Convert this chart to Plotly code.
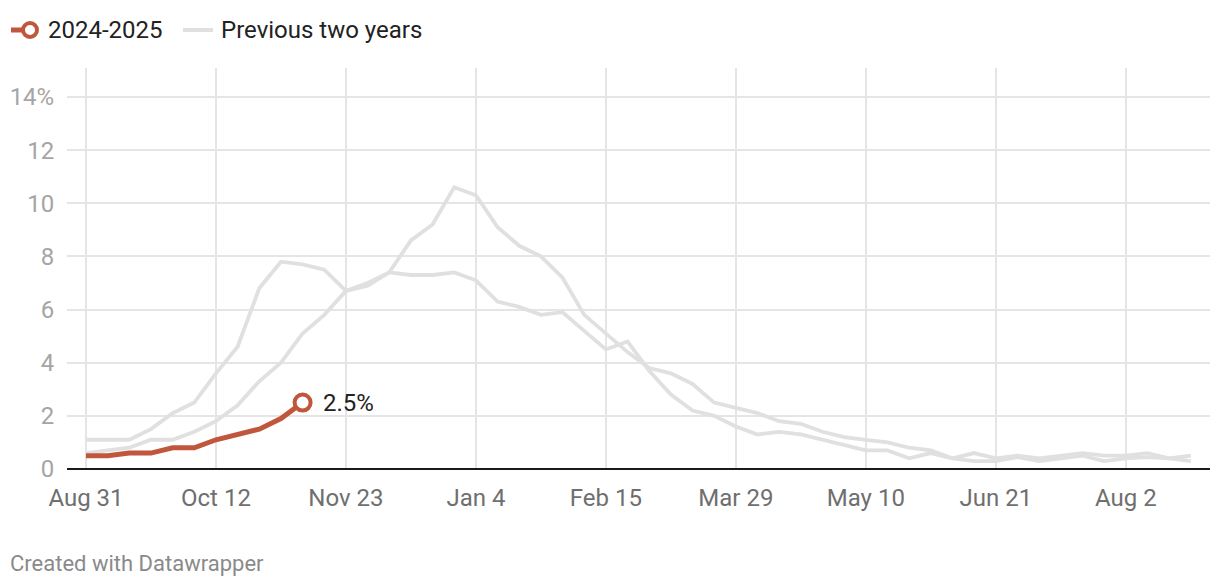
import pandas as pd
import plotly.graph_objects as go

# ---------------- data ----------------
start_date = "2024-08-31"
n_weeks = 52

current_label = "2024-2025"
current_values = [0.5, 0.5, 0.6, 0.6, 0.8, 0.8, 1.1, 1.3, 1.5, 1.9, 2.5]

prev_label = "Previous two years"
prev_a_values = [1.1, 1.1, 1.1, 1.5, 2.1, 2.5, 3.6, 4.6, 6.8, 7.8, 7.7, 7.5, 6.7, 6.9, 7.4,
                 7.3, 7.3, 7.4, 7.1, 6.3, 6.1, 5.8, 5.9, 5.2, 4.5, 4.8, 3.7, 2.8, 2.2, 2.0,
                 1.6, 1.3, 1.4, 1.3, 1.1, 0.9, 0.7, 0.7, 0.4, 0.6, 0.4, 0.3, 0.3, 0.45, 0.3,
                 0.4, 0.5, 0.3, 0.4, 0.45, 0.4, 0.3]
prev_b_values = [0.6, 0.7, 0.8, 1.1, 1.1, 1.4, 1.8, 2.4, 3.3, 4.0, 5.1, 5.8, 6.7, 7.0, 7.4,
                 8.6, 9.2, 10.6, 10.3, 9.1, 8.4, 8.0, 7.2, 5.8, 5.1, 4.4, 3.8, 3.6, 3.2, 2.5,
                 2.3, 2.1, 1.8, 1.7, 1.4, 1.2, 1.1, 1.0, 0.8, 0.7, 0.4, 0.6, 0.4, 0.5, 0.4,
                 0.5, 0.6, 0.5, 0.5, 0.6, 0.4, 0.5]

x_tick_labels = ["Aug 31", "Oct 12", "Nov 23", "Jan 4", "Feb 15", "Mar 29", "May 10", "Jun 21", "Aug 2"]
y_tick_values = [0, 2, 4, 6, 8, 10, 12, 14]
y_tick_labels = ["0", "2", "4", "6", "8", "10", "12", "14%"]
end_label = "2.5%"
footer_text = "Created with Datawrapper"

# ---------------- derived ----------------
weeks = pd.date_range(start_date, periods=n_weeks, freq="7D")
x_tick_values = pd.date_range(start_date, periods=len(x_tick_labels), freq="42D")

RED = "#c0573c"
GRAY = "#e0e0e0"
FONT = "Roboto, Arial, sans-serif"

W, H = 1220, 586
L, R, T, B = 67, 10, 68, 117
PW, PH = W - L - R, H - T - B


def px_x(p):
    return (p - L) / PW


def px_y(p):
    return (H - B - p) / PH


fig = go.Figure()

for vals in (prev_a_values, prev_b_values):
    fig.add_trace(go.Scatter(
        x=weeks[:len(vals)], y=vals, mode="lines",
        line=dict(color=GRAY, width=3.8), hoverinfo="skip", showlegend=False,
    ))

fig.add_trace(go.Scatter(
    x=weeks[:len(current_values)], y=current_values, mode="lines",
    line=dict(color=RED, width=5), hoverinfo="skip", showlegend=False,
))
fig.add_trace(go.Scatter(
    x=[weeks[len(current_values) - 1]], y=[current_values[-1]], mode="markers",
    marker=dict(symbol="circle", size=16, color="white", line=dict(color=RED, width=4)),
    hoverinfo="skip", showlegend=False, cliponaxis=False,
))

annotations = [
    dict(x=weeks[len(current_values) - 1], y=current_values[-1], xref="x", yref="y",
         text=end_label, showarrow=False, xanchor="left", yanchor="middle", xshift=18,
         font=dict(family=FONT, size=24, color="#222")),
    dict(x=px_x(46), y=px_y(30), xref="paper", yref="paper", text=current_label,
         showarrow=False, xanchor="left", yanchor="middle",
         font=dict(family=FONT, size=24, color="#222")),
    dict(x=px_x(219), y=px_y(30), xref="paper", yref="paper", text=prev_label,
         showarrow=False, xanchor="left", yanchor="middle",
         font=dict(family=FONT, size=24, color="#222")),
    dict(x=px_x(8), y=px_y(563), xref="paper", yref="paper", text=footer_text,
         showarrow=False, xanchor="left", yanchor="middle",
         font=dict(family=FONT, size=22, color="#8a8a8a")),
]

shapes = [
    dict(type="line", xref="paper", yref="paper", x0=px_x(11), x1=px_x(28),
         y0=px_y(30), y1=px_y(30), line=dict(color=RED, width=5)),
    dict(type="circle", xref="paper", yref="paper", x0=px_x(23), x1=px_x(37),
         y0=px_y(23), y1=px_y(37), fillcolor="white", line=dict(color=RED, width=4)),
    dict(type="line", xref="paper", yref="paper", x0=px_x(183), x1=px_x(213),
         y0=px_y(30), y1=px_y(30), line=dict(color=GRAY, width=4)),
]

fig.update_layout(
    width=W, height=H,
    margin=dict(l=L, r=R, t=T, b=B, pad=0, autoexpand=False),
    plot_bgcolor="white", paper_bgcolor="white",
    showlegend=False,
    font=dict(family=FONT),
    annotations=annotations,
    shapes=shapes,
    xaxis=dict(
        type="date", automargin=False,
        range=["2024-08-24 21:00", "2025-08-29 05:00"],
        tickmode="array", tickvals=list(x_tick_values), ticktext=x_tick_labels,
        showgrid=True, gridcolor="#e5e5e5", gridwidth=2,
        zeroline=False, showline=False, ticks="outside", ticklen=7, tickcolor="rgba(0,0,0,0)",
        tickfont=dict(family=FONT, size=24, color="#6f6f6f"),
        fixedrange=True,
    ),
    yaxis=dict(
        automargin=False,
        range=[0, 15.09],
        tickmode="array", tickvals=y_tick_values, ticktext=y_tick_labels,
        showgrid=True, gridcolor="#e5e5e5", gridwidth=2,
        zeroline=True, zerolinecolor="#1a1a1a", zerolinewidth=2.5,
        showline=False, ticks="outside", ticklen=7, tickcolor="rgba(0,0,0,0)",
        tickfont=dict(family=FONT, size=24, color="#a5a5a5"),
        fixedrange=True,
    ),
)

fig.write_html(
    "out.html",
    config={"displayModeBar": False, "staticPlot": True},
    post_script="document.body.style.margin='0';document.documentElement.style.margin='0';",
)
